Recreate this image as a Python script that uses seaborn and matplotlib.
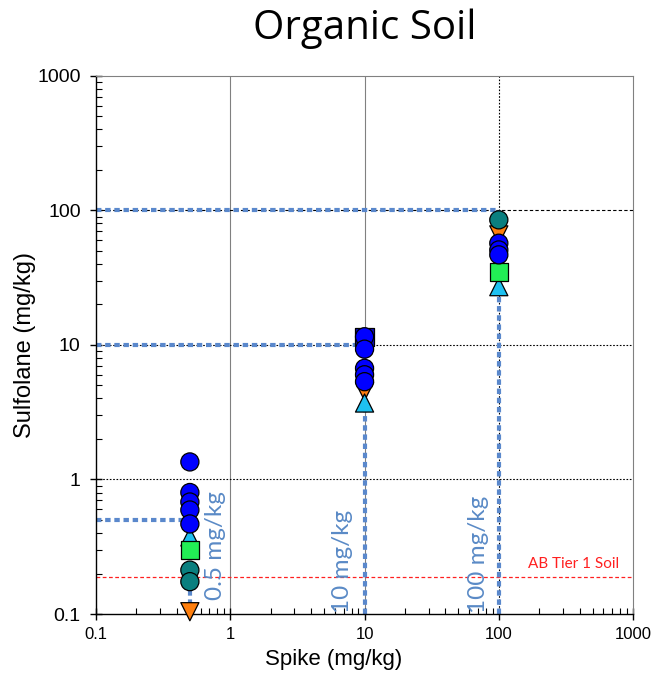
import matplotlib
matplotlib.use('Agg')
import matplotlib.pyplot as plt
import seaborn as sns
import pandas as pd
from matplotlib.ticker import LogLocator, FixedFormatter, FixedLocator

# spike levels (mg/kg) and measured sulfolane (mg/kg), one list per marker series
spike_levels = [0.5, 10, 100]
spike_labels = ['0.5 mg/kg', '10 mg/kg', '100 mg/kg']
tier1_soil = 0.19

orange_x = [0.5, 10, 100]
orange_y = [0.104, 4.5, 65.7]
cyan_x = [0.5, 10, 100]
cyan_y = [0.374, 3.7, 27.1]
green_x = [0.5, 100]
green_y = [0.30, 35.0]
teal_x = [0.5, 0.5, 100]
teal_y = [0.212, 0.174, 85.0]
navy_x = [10]
navy_y = [11.5]
blue_x = [0.5, 0.5, 0.5, 0.5, 0.5, 10, 10, 10, 10, 10, 100, 100, 100]
blue_y = [1.35, 0.80, 0.68, 0.593, 0.467, 11.5, 9.3, 6.7, 6.0, 5.33, 57.0, 50.8, 46.7]

series = {
    'orange': (orange_x, orange_y),
    'cyan': (cyan_x, cyan_y),
    'green': (green_x, green_y),
    'teal': (teal_x, teal_y),
    'navy': (navy_x, navy_y),
    'blue': (blue_x, blue_y),
}
rows = []
for name, (xs, ys) in series.items():
    for x, y in zip(xs, ys):
        rows.append({'spike': x, 'sulfolane': y, 'series': name})
df = pd.DataFrame(rows)

palette = {'orange': '#ff7f0e', 'cyan': '#1ec0f0', 'green': '#22ee55',
           'teal': '#0a7f7f', 'navy': '#1010c0', 'blue': '#0000ff'}
markers = {'orange': 'v', 'cyan': '^', 'green': 's', 'teal': 'o',
           'navy': 's', 'blue': 'o'}

fig = plt.figure(figsize=(6.65, 6.83), dpi=100)
ax = fig.add_axes([0.1444, 0.101, 0.8076, 0.788])
ax.set_xscale('log')
ax.set_yscale('log')
ax.set_xlim(0.1, 1000)
ax.set_ylim(0.1, 1000)

# grid lines
ax.axvline(1, color='#808080', lw=0.8, zorder=1)
ax.axvline(10, color='#808080', lw=0.8, zorder=1)
ax.axvline(100, color='black', lw=0.8, ls=(0, (1.5, 1.5)), zorder=1)
ax.axhline(1, color='black', lw=0.8, ls=(0, (1.5, 1.5)), zorder=1)
ax.axhline(10, color='black', lw=0.8, ls=(0, (1.5, 1.5)), zorder=1)
ax.axhline(100, color='black', lw=0.8, ls=(0, (3, 2)), zorder=1)

# tier 1 line
ax.axhline(tier1_soil, color='#ff2020', lw=0.9, ls=(0, (3, 2)), zorder=1)
ax.text(360, tier1_soil * 1.1, 'AB Tier 1 Soil', color='#ff2020', fontsize=11,
        ha='center', va='bottom', family='Lato')

# spike guide lines
guide = '#5a88cc'
for s in spike_levels:
    ax.plot([0.1, s], [s, s], color=guide, lw=3, ls=(0, (1.3, 0.9)),
            dash_capstyle='butt', zorder=2)
    ax.plot([s, s], [0.1, s], color=guide, lw=3, ls=(0, (1.3, 0.9)),
            dash_capstyle='butt', zorder=2)

label_x = [0.78, 6.9, 71]
label_y = [0.128, 0.102, 0.102]
for lx, ly, lab in zip(label_x, label_y, spike_labels):
    ax.text(lx, ly, lab, rotation=90, color='#5a8ac6', fontsize=17.5,
            ha='center', va='bottom', family='Lato')

sns.scatterplot(data=df, x='spike', y='sulfolane', hue='series', style='series',
                palette=palette, markers=markers, s=170, edgecolor='black',
                linewidth=0.9, legend=False, ax=ax, zorder=3, clip_on=False)

ax.xaxis.set_major_locator(FixedLocator([0.1, 1, 10, 100, 1000]))
ax.xaxis.set_major_formatter(FixedFormatter(['0.1', '1', '10', '100', '1000']))
ax.yaxis.set_major_locator(FixedLocator([0.1, 1, 10, 100, 1000]))
ax.yaxis.set_major_formatter(FixedFormatter(['0.1', '1', '10', '100', '1000']))
ax.xaxis.set_minor_locator(LogLocator(base=10, subs=range(2, 10)))
ax.yaxis.set_minor_locator(LogLocator(base=10, subs=range(2, 10)))
ax.tick_params(which='major', direction='inout', length=8, width=1)
ax.tick_params(which='minor', direction='in', length=4, width=0.8)
ax.tick_params(axis='x', which='major', labelsize=12, pad=5)
ax.tick_params(axis='y', which='major', labelsize=14, pad=7)
ax.tick_params(axis='both', which='both', labelfontfamily='Liberation Sans')

for side in ['top', 'right']:
    ax.spines[side].set_color('#808080')
    ax.spines[side].set_linewidth(0.8)
for side in ['left', 'bottom']:
    ax.spines[side].set_linewidth(1.0)

ax.set_xlabel('Spike (mg/kg)', fontsize=16, family='Liberation Sans')
ax.xaxis.set_label_coords(0.443, -0.065)
ax.set_ylabel('Sulfolane (mg/kg)', fontsize=17, family='Liberation Sans')
ax.yaxis.set_label_coords(-0.112, 0.5)
fig.text(0.549, 0.958, 'Organic Soil', fontsize=29, ha='center', va='center',
         family='Open Sans')

fig.savefig('out.png', dpi=100)
